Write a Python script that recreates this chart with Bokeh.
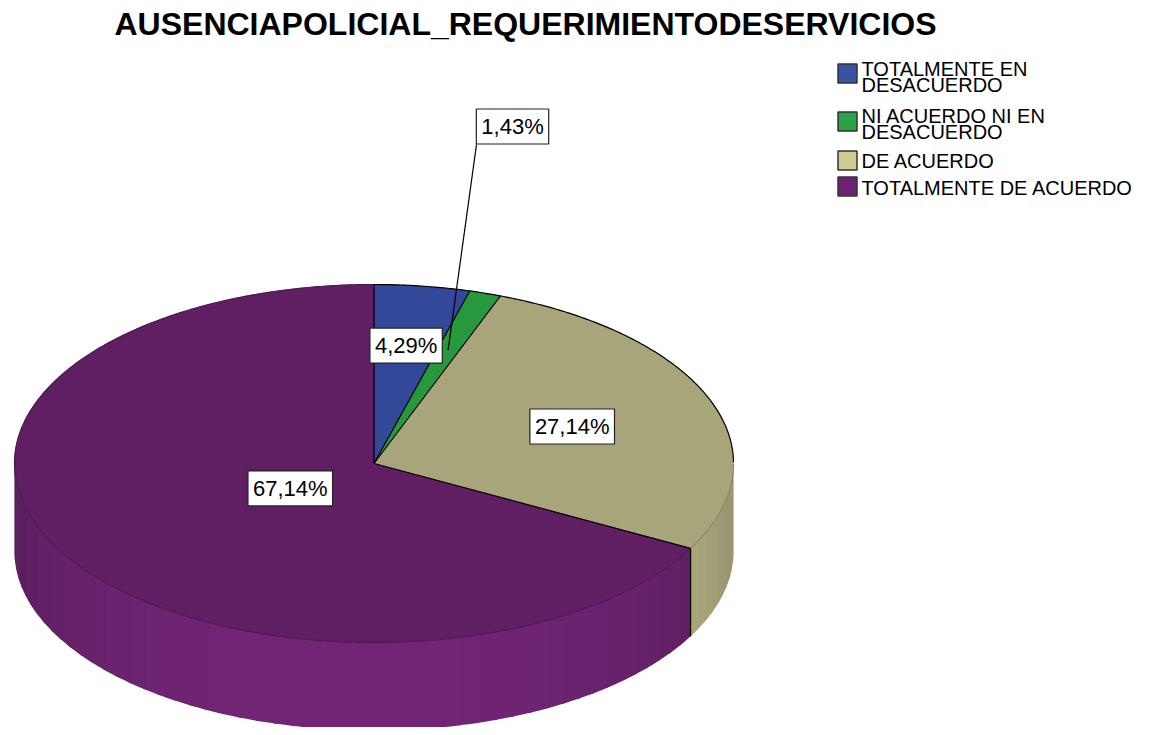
import numpy as np
from bokeh.plotting import figure
from bokeh.models import Range1d, Label
from bokeh.core.properties import value
from bokeh.embed import file_html
from bokeh.resources import INLINE

# ---------------- data ----------------
title_text = "AUSENCIAPOLICIAL_REQUERIMIENTODESERVICIOS"
categories = ["TOTALMENTE EN DESACUERDO", "NI ACUERDO NI EN DESACUERDO",
              "DE ACUERDO", "TOTALMENTE DE ACUERDO"]
legend_lines = [["TOTALMENTE EN", "DESACUERDO"], ["NI ACUERDO NI EN", "DESACUERDO"],
                ["DE ACUERDO"], ["TOTALMENTE DE ACUERDO"]]
percentages = [4.29, 1.43, 27.14, 67.14]
pct_labels = ["4,29%", "1,43%", "27,14%", "67,14%"]
top_colors = ["#34489a", "#27983d", "#a9a57b", "#5f1f62"]
legend_colors = ["#3853a6", "#2aa347", "#cfcb95", "#6e2372"]

# ---------------- layout ----------------
W, H = 1143, 727
cx, cy, rx, ry, depth = 373.5, 463.0, 359.5, 179.0, 88.0
outside_label_xy = (512, 126)      # box for small slice label
outside_line_start = (476, 144)
legend_first_line_y = [68, 115, 160, 187]
legend_square_y = [73, 121, 160, 186]
legend_square_x = 847
legend_text_x = 861
legend_line_step = 16

p = figure(width=W, height=H, x_range=Range1d(0, W), y_range=Range1d(H, 0),
           output_backend="svg", toolbar_location=None, min_border=0,
           x_axis_type=None, y_axis_type=None)
p.grid.visible = False
p.outline_line_color = None
p.background_fill_color = "white"


def pt(theta, r=1.0, dy=0.0):
    t = np.radians(theta)
    return cx + r * rx * np.cos(t), cy - r * ry * np.sin(t) + dy


def hex2rgb(h):
    h = h.lstrip("#")
    return np.array([int(h[i:i + 2], 16) for i in (0, 2, 4)], dtype=float)


def rgb2hex(c):
    c = np.clip(np.round(c), 0, 255).astype(int)
    return "#%02x%02x%02x" % tuple(c)


fracs = np.array(percentages) / np.sum(percentages)
cum = np.concatenate([[0.0], np.cumsum(fracs)])
starts = 90.0 - 360.0 * cum[:-1]
ends = 90.0 - 360.0 * cum[1:]

# ---------------- side (front half) ----------------
sx, sy, sc = [], [], []
for i in range(len(percentages)):
    hi = min(starts[i], 0.0)
    lo = max(ends[i], -180.0)
    if lo >= hi:
        continue
    n = max(1, int(np.ceil((hi - lo) / 3.0)))
    edges = np.linspace(hi, lo, n + 1)
    base = hex2rgb(top_colors[i])
    for a, b in zip(edges[:-1], edges[1:]):
        bb = max(b - 0.6, lo)  # slight overlap to avoid seams
        th = np.linspace(a, bb, 5)
        xs_t, ys_t = pt(th)
        xs_b, ys_b = pt(th[::-1], dy=depth)
        mid = 0.5 * (a + b)
        shade = 0.88 + 0.32 * np.cos(np.radians(mid + 95.0))
        sx.append(list(xs_t) + list(xs_b))
        sy.append(list(ys_t) + list(ys_b))
        sc.append(rgb2hex(base * shade))
p.patches(sx, sy, fill_color=sc, line_color=None)

# vertical boundary lines on the side
for a in starts:
    aa = a if a <= 0 else a - 360
    if -180 < aa < 0:
        x0, y0 = pt(aa)
        x1, y1 = pt(aa, dy=depth)
        p.line([x0, x1], [y0, y1], line_color="black", line_width=1.3)

# ---------------- top face ----------------
tx, ty = [], []
for i in range(len(percentages)):
    th = np.linspace(starts[i], ends[i], max(3, int(abs(starts[i] - ends[i]) * 2)))
    xs, ys = pt(th)
    tx.append([cx] + list(xs))
    ty.append([cy] + list(ys))
p.patches(tx, ty, fill_color=top_colors, line_color=top_colors, line_width=0.5)

# arcs: back half black, front half darker shade of slice
for i in range(len(percentages)):
    th = np.linspace(starts[i], ends[i], max(3, int(abs(starts[i] - ends[i]) * 2)))
    back = th[th >= 0]
    front = th[th <= 0]
    if len(back) > 1:
        xs, ys = pt(back)
        p.line(xs, ys, line_color="black", line_width=1.2)
    if len(front) > 1:
        xs, ys = pt(front)
        p.line(xs, ys, line_color=rgb2hex(hex2rgb(top_colors[i]) * 0.82), line_width=1.2)

# radial lines
for a in starts:
    x1, y1 = pt(a)
    p.line([cx, x1], [cy, y1], line_color="black", line_width=1.2)

# ---------------- labels ----------------
lab_x, lab_y, lab_t = [], [], []
for i in range(len(percentages)):
    half = np.radians(abs(starts[i] - ends[i])) / 2.0
    rc = (2.0 / 3.0) * np.sin(half) / half
    mid = 0.5 * (starts[i] + ends[i])
    x, y = pt(mid, r=rc)
    if fracs[i] < 0.03:
        p.line([outside_line_start[0], x], [outside_line_start[1], y],
               line_color="black", line_width=1.2)
        x, y = outside_label_xy
    lab_x.append(x)
    lab_y.append(y)
    lab_t.append(pct_labels[i])

p.text(lab_x, lab_y, text=lab_t, text_align="center", text_baseline="middle",
       text_font=value("Liberation Sans"), text_font_size="22px", text_color="black",
       background_fill_color="white", border_line_color="#222222", border_line_width=1.2,
       padding=5)

# ---------------- legend ----------------
p.rect([legend_square_x] * 4, legend_square_y, width=19, height=19,
       fill_color=legend_colors, line_color="#333333", line_width=1.5)
lx, ly, lt = [], [], []
for i, lines in enumerate(legend_lines):
    for k, ln in enumerate(lines):
        lx.append(legend_text_x)
        ly.append(legend_first_line_y[i] + k * legend_line_step)
        lt.append(ln)
p.text(lx, ly, text=lt, text_align="left", text_baseline="middle",
       text_font=value("Liberation Sans"), text_font_size="20px", text_color="black")

# ---------------- title ----------------
p.add_layout(Label(x=525, y=23, text=title_text, text_align="center",
                   text_baseline="middle", text_font="Liberation Sans",
                   text_font_style="bold", text_font_size="32px", text_color="black"))

open("out.html", "w").write(file_html(p, INLINE))
